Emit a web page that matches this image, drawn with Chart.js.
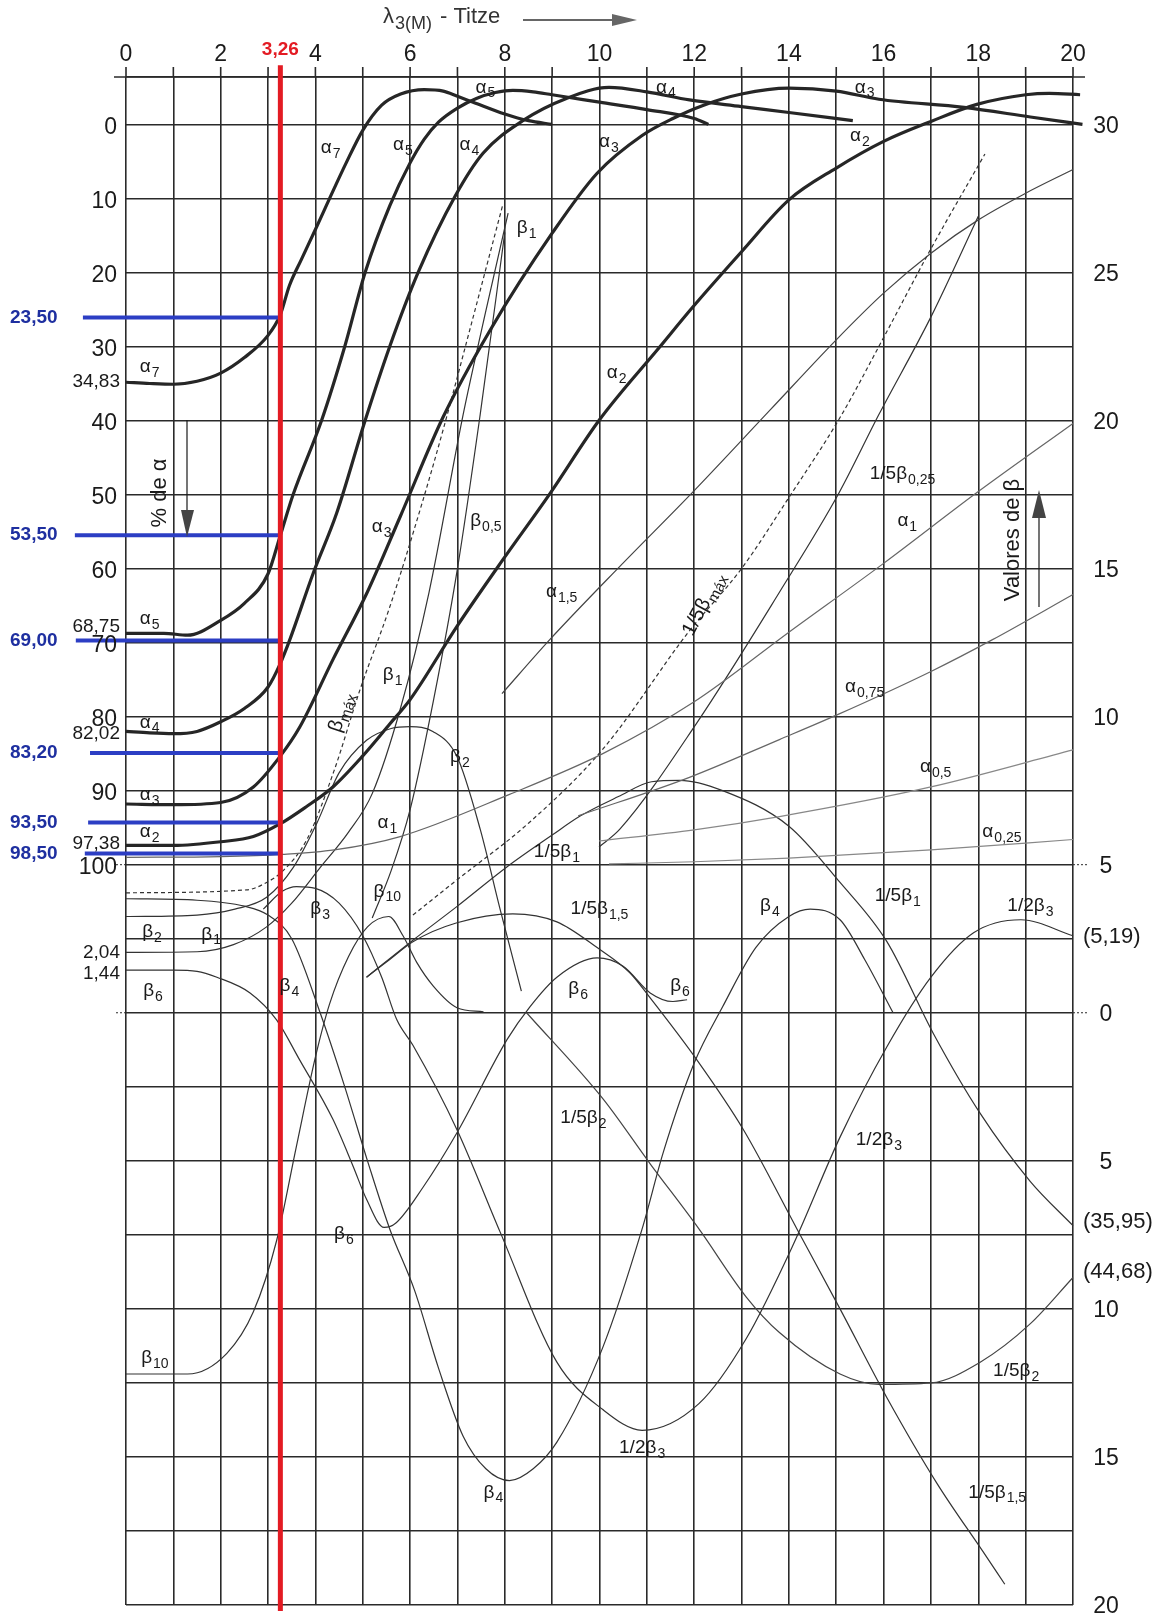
<!DOCTYPE html>
<html>
<head>
<meta charset="utf-8">
<title>Titze</title>
<script src="https://cdn.jsdelivr.net/npm/chart.js@4.4.1/dist/chart.umd.min.js"></script>
<style>
  html, body { margin: 0; background: #fff; }
  #wrap { width: 1173px; height: 1619px; position: relative; }
</style>
</head>
<body>
<div id="wrap"><canvas id="titze"></canvas></div>
<script>
// grid and tick values
const xGrid = [0,1,2,3,4,5,6,7,8,9,10,11,12,13,14,15,16,17,18,19,20];
const xTickLabels = [0,2,4,6,8,10,12,14,16,18,20];
const betaGrid = [-20,-17.5,-15,-12.5,-10,-7.5,-5,-2.5,0,2.5,5,7.5,10,12.5,15,17.5,20,22.5,25,27.5,30,31.6];
const betaTickLabels = [30,25,20,15,10,5,0,-5,-10,-15,-20];
const alphaTickLabels = [0,10,20,30,40,50,60,70,80,90,100];

// reading at lambda = 3,26
const lambdaRead = 3.26;
const blueLevels = [26.1, 55.5, 69.7, 84.9, 94.3, 98.5];
const blueTexts = ["23,50", "53,50", "69,00", "83,20", "93,50", "98,50"];
const blueStarts = [-0.91, -1.08, -1.06, -0.76, -0.8, -0.87];

// alpha curves, % de alpha
const alpha7 = [[0,34.83],[0.5,35],[1,35.1],[1.5,34.7],[2,33.6],[2.5,31.5],[3,28.5],[3.26,25.7],[3.45,21.8],[3.7,18.3],[4,14.2],[4.3,10],[4.65,5.2],[5,0.8],[5.4,-2.6],[5.8,-4.1],[6.3,-4.7],[6.7,-4.5],[7,-3.8],[7.33,-3],[8,-1.4],[8.5,-0.5],[9,0]];
const alpha5 = [[0,68.75],[0.8,68.75],[1.3,69],[2,67],[2.5,64.7],[3,60.7],[3.26,55.5],[3.53,50],[4.13,40],[4.62,30],[5.05,20],[5.57,11],[6,5.2],[6.3,2],[6.6,-0.3],[7,-2.2],[7.4,-3.5],[7.8,-4.3],[8.17,-4.6],[8.6,-4.4],[9,-4],[9.3,-3.7],[10,-3],[11,-2],[12,-0.8],[12.3,0]];
const alpha4 = [[0,82],[0.5,82.2],[1,82.3],[1.5,82],[2,80.7],[2.5,78.9],[3,76],[3.26,72.8],[3.46,69.6],[3.95,60.7],[4.45,52.5],[5.05,40],[5.57,30],[6.17,20],[6.95,9.7],[7.54,3.9],[8.38,-0.5],[9.3,-3.5],[10.2,-5],[11,-4.4],[11.9,-3.3],[13,-2.4],[14,-1.6],[15.35,-0.5]];
const alpha3 = [[0,91.8],[1,91.9],[2,91.6],[2.69,89.5],[3.25,85.4],[3.67,81.4],[4.37,72.3],[5.08,63.4],[5.79,53],[6.7,39.5],[7.69,27.8],[9,14.7],[9.95,6.6],[10.9,1.5],[11.55,-0.8],[12.2,-2.6],[13,-4.1],[14,-4.9],[15,-4.5],[15.9,-3.4],[17.7,-2.3],[19.1,-1],[20.2,0]];
const alpha2 = [[0,97.38],[1,97.4],[2,96.9],[2.69,96.2],[3.25,94.5],[3.8,92.2],[4.37,89.5],[5,85.3],[5.57,81],[6,77.7],[6.99,67.8],[7.96,58.8],[8.95,49.9],[10,39.9],[11.28,30],[11.98,24.6],[13,17.2],[14,10.2],[15,5.9],[16,2.3],[17,-0.4],[17.97,-2.7],[19,-4],[19.5,-4.2],[20.15,-4]];
const alpha1 = [[0,99],[2,98.9],[3.3,98.6],[4.4,98],[5.79,96.2],[8.1,90.5],[10.07,85],[12,78],[14,68.6],[16,59.3],[18,49.6],[20,40.4]];
const alpha15 = [[7.94,76.9],[8.95,69.6],[10.43,59.7],[11.98,49.6],[13.6,38.6],[15,29.1],[16,22.8],[17,17.4],[18,12.9],[19,9.3],[20,6.1]];
const alpha075 = [[9.55,93.4],[11.9,88.2],[13.8,83.1],[15.04,79.7],[17,73.9],[18.3,69.6],[20,63.5]];
const alpha05 = [[9.99,96.8],[12,95.3],[13.8,93.5],[17,89.5],[20,84.5]];
const alpha025 = [[10.2,99.9],[12,99.6],[14,99.1],[17,98],[20,96.6]];

// beta curves, valores de beta
const betaMax = [[0,4.05],[2.55,4.15],[2.97,4.4],[3.32,4.8],[3.82,5.85],[4.4,8.2],[4.94,10.9],[5.57,13.7],[6.27,17.3],[6.7,19.7],[7.3,23.3],[7.96,27.3]];
const beta1 = [[0,2.04],[1.5,2.06],[2.27,2.3],[2.97,2.9],[3.5,3.7],[4.1,4.9],[4.7,6.1],[5.2,7.4],[5.8,10.3],[6.4,14.2],[7.12,20.2],[7.6,23.7],[8.07,27]];
const beta05 = [[5.2,3.2],[5.6,4.8],[6,6.86],[6.5,10.6],[7,15],[7.48,20.2],[8,26.35]];
const beta2 = [[0,3.25],[1.5,3.3],[2.3,3.5],[2.97,3.9],[3.53,4.9],[4.03,6.4],[4.5,8.1],[5.08,9.2],[5.6,9.6],[6,9.66],[6.48,9.5],[6.99,8.65],[7.48,6.2],[7.9,3.5],[8.35,0.73]];
const beta4 = [[0,3.85],[1.5,3.8],[2.5,3.6],[3,3.3],[3.5,2.5],[4.1,0],[4.6,-2.4],[5.1,-5],[5.57,-7.3],[6.1,-9.4],[6.6,-12],[7.12,-14.3],[7.6,-15.4],[8.1,-15.8],[8.6,-15.4],[9.1,-14.5],[10.07,-11.3],[10.9,-7.3],[11.35,-4.7],[12,-1.7],[12.6,0.2],[13.3,2.2],[14,3.25],[14.45,3.5],[15.08,3.14],[15.6,1.8],[16.2,0]];
const halfBeta3 = [[2.9,3.5],[3.3,4.1],[3.6,4.26],[4,4.2],[4.5,3.7],[5,2.6],[5.4,1.2],[5.72,-0.24],[6.06,-1.1],[6.99,-3.95],[7.9,-7.4],[9.1,-11.8],[10.07,-13.4],[10.9,-14.1],[12.1,-13.2],[13.1,-11],[14.1,-7.8],[15.08,-4.2],[16.07,-1.15],[17,1.2],[17.9,2.7],[18.9,3.14],[20,2.6]];
const beta6 = [[0,1.44],[1,1.44],[1.5,1.4],[1.92,1.2],[2.62,0.67],[3.18,-0.24],[3.67,-1.6],[4.37,-3.6],[4.8,-5.2],[5.08,-6.3],[5.45,-7.25],[5.7,-7.1],[6.27,-5.9],[6.99,-4.05],[8.05,-0.9],[8.53,0.2],[9.1,1.2],[9.95,1.85],[10.5,1.57],[11.07,0.67],[11.55,0.38],[11.85,0.44]];
const beta10 = [[0,-12.2],[1.3,-12.2],[2.13,-11.5],[2.69,-10.1],[3.18,-7.7],[3.6,-4.5],[4,-1.5],[4.3,0.3],[4.7,1.9],[5.1,2.9],[5.55,3.25],[5.85,2.6],[6.14,1.7],[6.49,0.9],[6.99,0.17],[7.55,0.03]];
const fifthBeta15 = [[5.08,1.2],[5.57,1.8],[6.06,2.4],[6.99,3.04],[8.17,3.34],[9.1,3.07],[9.95,2.2],[10.64,1.35],[11.07,0.5],[12.06,-1.6],[13.04,-3.95],[14.17,-7.3],[15.08,-10],[16.07,-13],[17.13,-15.9],[18.1,-18.2],[18.56,-19.3]];
const fifthBeta2 = [[8.46,0],[10.07,-2.9],[11.07,-5.1],[12.1,-7.3],[13.1,-9.6],[13.8,-10.8],[15.08,-12.2],[15.9,-12.55],[17,-12.5],[18.04,-11.8],[19.1,-10.5],[20,-8.94]];
const fifthBeta1 = [[5.08,1.2],[6.06,2.45],[7,3.6],[8.05,4.93],[9,6],[9.6,6.65],[10.4,7.3],[11.1,7.8],[11.7,7.85],[12.6,7.5],[14,6.3],[15.08,4.4],[16.07,2.4],[17.05,-0.7],[18.04,-3.4],[19.1,-5.7],[20,-7.19]];
const fifthBetaMax = [[6.06,3.3],[7,4.5],[8.5,6.4],[10.07,8.9],[11.9,12.9],[13,15],[14,17.4],[15.08,20.1],[16,22.8],[17,25.8],[18.14,29]];
const fifthBeta025 = [[9.99,5.6],[10.43,6.2],[12.06,9.8],[13.8,14.2],[15.04,17.5],[15.9,20.2],[17,23.5],[18,26.9]];

// curve names: [main, subscript, x, beta]
const curveLabels = [
  ["α","7",4.32,29.2],["α","7",0.5,21.8],
  ["α","5",5.85,29.3],["α","5",7.59,31.25],["α","5",0.5,13.3],
  ["α","4",7.25,29.3],["α","4",11.4,31.25],["α","4",0.5,9.8],
  ["α","3",10.2,29.4],["α","3",15.6,31.25],["α","3",0.5,7.36],["α","3",5.4,16.4],
  ["α","2",15.5,29.6],["α","2",10.36,21.6],["α","2",0.5,6.1],
  ["α","1",16.5,16.6],["α","1",5.52,6.4],
  ["α","1,5",9.2,14.2],["α","0,75",15.6,11],["α","0,5",17.1,8.3],["α","0,25",18.5,6.1],
  ["β","1",8.46,26.5],["β","1",5.63,11.4],["β","1",1.8,2.65],
  ["β","0,5",7.6,16.6],
  ["1/5β","0,25",16.4,18.2],
  ["β","2",7.05,8.65],["β","2",0.55,2.72],
  ["1/5β","1",9.1,5.44],["1/5β","1",16.3,3.94],
  ["β","3",4.1,3.5],
  ["β","10",5.52,4.1],["β","10",0.61,-11.65],
  ["1/5β","1,5",10,3.5],["1/5β","1,5",18.4,-16.2],
  ["β","4",13.6,3.6],["β","4",3.45,0.9],["β","4",7.76,-16.2],
  ["β","6",0.57,0.73],["β","6",9.55,0.8],["β","6",11.7,0.9],["β","6",4.6,-7.46],
  ["1/2β","3",19.1,3.6],["1/2β","3",15.9,-4.3],["1/2β","3",10.9,-14.7],
  ["1/5β","2",9.66,-3.56],["1/5β","2",18.8,-12.1]
];
const rotatedLabels = [["β","máx",4.54,10.15,-72],["1/5β","máx",12.2,13.8,-62]];
const startValues = [["34,83","yl",34.83],["68,75","yl",67.9],["82,02","yl",82.3],["97,38","yl",97.2],["2,04","y",2.04],["1,44","y",1.3]];
const endValues = [["(5,19)",2.55],["(35,95)",-7.05],["(44,68)",-8.75]];

const FONT = '"Liberation Sans", Arial, sans-serif';
const INK = "#1a1a1a";
const RED = "#e31b23";
const BLUE = "#2c3ec4";

function pts(arr) {
  return arr.map(p => ({ x: p[0], y: p[1] }));
}

function curve(arr, axis, width, color, dash) {
  return {
    data: pts(arr),
    yAxisID: axis,
    borderColor: color,
    borderWidth: width,
    borderDash: dash || [],
    pointRadius: 0,
    fill: false,
    cubicInterpolationMode: "monotone",
    clip: { left: 2, top: 14, right: 14, bottom: 2 },
    order: 2
  };
}

const datasets = [
  curve(alpha7, "yl", 3.2, "#262626"),
  curve(alpha5, "yl", 3.2, "#262626"),
  curve(alpha4, "yl", 3.2, "#262626"),
  curve(alpha3, "yl", 3.2, "#262626"),
  curve(alpha2, "yl", 3.2, "#262626"),
  curve(alpha1, "yl", 1.2, "#666"),
  curve(alpha15, "yl", 1.2, "#444"),
  curve(alpha075, "yl", 1.2, "#666"),
  curve(alpha05, "yl", 1.2, "#888"),
  curve(alpha025, "yl", 1.2, "#888"),
  curve(betaMax, "y", 1.2, "#333", [4, 3]),
  curve(beta1, "y", 1.2, "#333"),
  curve(beta05, "y", 1.2, "#333"),
  curve(beta2, "y", 1.2, "#333"),
  curve(beta4, "y", 1.2, "#333"),
  curve(halfBeta3, "y", 1.2, "#333"),
  curve(beta6, "y", 1.2, "#333"),
  curve(beta10, "y", 1.2, "#333"),
  curve(fifthBeta15, "y", 1.2, "#333"),
  curve(fifthBeta2, "y", 1.2, "#444"),
  curve(fifthBeta1, "y", 1.2, "#333"),
  curve(fifthBetaMax, "y", 1.2, "#333", [4, 3]),
  curve(fifthBeta025, "y", 1.2, "#333")
];

blueLevels.forEach((lvl, i) => {
  datasets.push({
    data: [{ x: blueStarts[i], y: lvl }, { x: lambdaRead, y: lvl }],
    yAxisID: "yl", borderColor: BLUE, borderWidth: 4, pointRadius: 0,
    clip: false, order: 1
  });
});
datasets.push({
  data: [{ x: lambdaRead, y: 32 }, { x: lambdaRead, y: -20.2 }],
  yAxisID: "y", borderColor: RED, borderWidth: 5, pointRadius: 0,
  clip: false, order: 0
});

function subText(ctx, main, sub, cx, cy, size, align, color, subScale) {
  const small = Math.round(size * (subScale || 0.74));
  ctx.font = size + "px " + FONT;
  const w1 = ctx.measureText(main).width;
  ctx.font = small + "px " + FONT;
  const w2 = ctx.measureText(sub).width;
  const x0 = align === "left" ? cx : cx - (w1 + w2 + 1) / 2;
  ctx.fillStyle = color || INK;
  ctx.textAlign = "left";
  ctx.textBaseline = "middle";
  ctx.font = size + "px " + FONT;
  ctx.fillText(main, x0, cy);
  ctx.font = small + "px " + FONT;
  ctx.fillText(sub, x0 + w1 + 1, cy + size * 0.32);
  return x0 + w1 + 1 + w2;
}

const textPlugin = {
  id: "titzeText",
  beforeDatasetsDraw(chart) {
    const ctx = chart.ctx;
    const { left, right, top } = chart.chartArea;
    const x = chart.scales.x, y = chart.scales.y;
    ctx.save();
    ctx.strokeStyle = "#2a2a2a";
    ctx.lineWidth = 1.6;
    ctx.beginPath();
    ctx.moveTo(left - 12, top); ctx.lineTo(right + 12, top);
    xGrid.forEach(v => { const px = x.getPixelForValue(v); ctx.moveTo(px, top - 10); ctx.lineTo(px, top); });
    ctx.stroke();
    ctx.lineWidth = 1;
    ctx.setLineDash([2, 2]);
    ctx.beginPath();
    [5, 0].forEach(v => { const py = y.getPixelForValue(v); ctx.moveTo(left - 10, py); ctx.lineTo(left, py); ctx.moveTo(right, py); ctx.lineTo(right + 16, py); });
    ctx.stroke();
    ctx.restore();
  },
  afterDatasetsDraw(chart) {
    const ctx = chart.ctx;
    const x = chart.scales.x, y = chart.scales.y, yl = chart.scales.yl;
    ctx.save();
    ctx.fillStyle = INK;
    ctx.textBaseline = "middle";

    // top ticks
    ctx.font = "23px " + FONT;
    ctx.textAlign = "center";
    xTickLabels.forEach(v => ctx.fillText(String(v), x.getPixelForValue(v), 55));

    // left alpha ticks
    ctx.textAlign = "right";
    alphaTickLabels.forEach(v => ctx.fillText(String(v), 117, yl.getPixelForValue(v) + 3));

    // right beta ticks
    ctx.textAlign = "center";
    betaTickLabels.forEach(v => ctx.fillText(String(Math.abs(v)), 1106, y.getPixelForValue(v) + 2));

    // end values on the right
    ctx.font = "22px " + FONT;
    ctx.textAlign = "left";
    endValues.forEach(e => ctx.fillText(e[0], 1083, y.getPixelForValue(e[1])));

    // start values on the left
    ctx.font = "19px " + FONT;
    ctx.textAlign = "right";
    startValues.forEach(s => {
      const sc = s[1] === "yl" ? yl : y;
      ctx.fillText(s[0], 120, sc.getPixelForValue(s[2]));
    });

    // curve names
    curveLabels.forEach(l => subText(ctx, l[0], l[1], x.getPixelForValue(l[2]), y.getPixelForValue(l[3]), 19));
    rotatedLabels.forEach(l => {
      ctx.save();
      ctx.translate(x.getPixelForValue(l[2]), y.getPixelForValue(l[3]));
      ctx.rotate(l[4] * Math.PI / 180);
      subText(ctx, l[0], l[1], 0, 0, 20);
      ctx.restore();
    });

    // axis titles
    ctx.save();
    ctx.translate(160, 493);
    ctx.rotate(-Math.PI / 2);
    ctx.font = "22px " + FONT;
    ctx.textAlign = "center";
    ctx.fillStyle = INK;
    ctx.fillText("% de α", 0, 0);
    ctx.restore();
    ctx.strokeStyle = INK;
    ctx.lineWidth = 1.2;
    ctx.beginPath(); ctx.moveTo(187, 420); ctx.lineTo(187, 512); ctx.stroke();
    ctx.fillStyle = "#444";
    ctx.beginPath(); ctx.moveTo(181, 510); ctx.lineTo(194, 510); ctx.lineTo(187, 537); ctx.closePath(); ctx.fill();

    ctx.save();
    ctx.translate(1013, 540);
    ctx.rotate(-Math.PI / 2);
    ctx.font = "22px " + FONT;
    ctx.textAlign = "center";
    ctx.fillStyle = INK;
    ctx.fillText("Valores de β", 0, 0);
    ctx.restore();
    ctx.beginPath(); ctx.moveTo(1039, 607); ctx.lineTo(1039, 515); ctx.stroke();
    ctx.fillStyle = "#444";
    ctx.beginPath(); ctx.moveTo(1032, 518); ctx.lineTo(1046, 518); ctx.lineTo(1039, 490); ctx.closePath(); ctx.fill();

    // top title
    const endSub = subText(ctx, "λ", "3(M)", 383, 17, 22, "left", "#333", 0.8);
    ctx.font = "22px " + FONT;
    ctx.textAlign = "left";
    ctx.fillStyle = "#333";
    ctx.fillText("- Titze", endSub + 8, 17);
    ctx.strokeStyle = "#333";
    ctx.lineWidth = 1.5;
    ctx.beginPath(); ctx.moveTo(523, 20); ctx.lineTo(618, 20); ctx.stroke();
    ctx.fillStyle = "#666";
    ctx.beginPath(); ctx.moveTo(612, 14); ctx.lineTo(637, 20); ctx.lineTo(612, 26); ctx.closePath(); ctx.fill();

    // red reading
    ctx.fillStyle = RED;
    ctx.font = "bold 19px " + FONT;
    ctx.textAlign = "center";
    ctx.fillText("3,26", x.getPixelForValue(lambdaRead), 50);

    // blue readings
    ctx.fillStyle = "#1e2fa0";
    ctx.textAlign = "left";
    blueTexts.forEach((t, i) => ctx.fillText(t, 10, yl.getPixelForValue(blueLevels[i])));
    ctx.restore();
  }
};

new Chart(document.getElementById("titze"), {
  type: "line",
  data: { datasets: datasets },
  options: {
    responsive: true,
    maintainAspectRatio: false,
    animation: false,
    events: [],
    layout: { padding: { left: 126, right: 100, top: 77, bottom: 14 } },
    plugins: { legend: { display: false }, tooltip: { enabled: false } },
    scales: {
      x: {
        type: "linear", position: "top", min: 0, max: 20,
        afterBuildTicks: s => { s.ticks = xGrid.map(v => ({ value: v })); },
        afterFit: s => { s.height = 0; },
        ticks: { display: false, autoSkip: false },
        grid: { color: "#2a2a2a", lineWidth: 1.6, drawTicks: false },
        border: { display: false }
      },
      y: {
        type: "linear", position: "right", min: -20, max: 31.6,
        afterBuildTicks: s => { s.ticks = betaGrid.map(v => ({ value: v })); },
        afterFit: s => { s.width = 0; },
        ticks: { display: false, autoSkip: false },
        grid: { color: "#2a2a2a", lineWidth: 1.6, drawTicks: false },
        border: { display: false }
      },
      yl: { type: "linear", position: "left", display: false, min: -6.4, max: 200, reverse: true }
    }
  },
  plugins: [textPlugin]
});
</script>
</body>
</html>
